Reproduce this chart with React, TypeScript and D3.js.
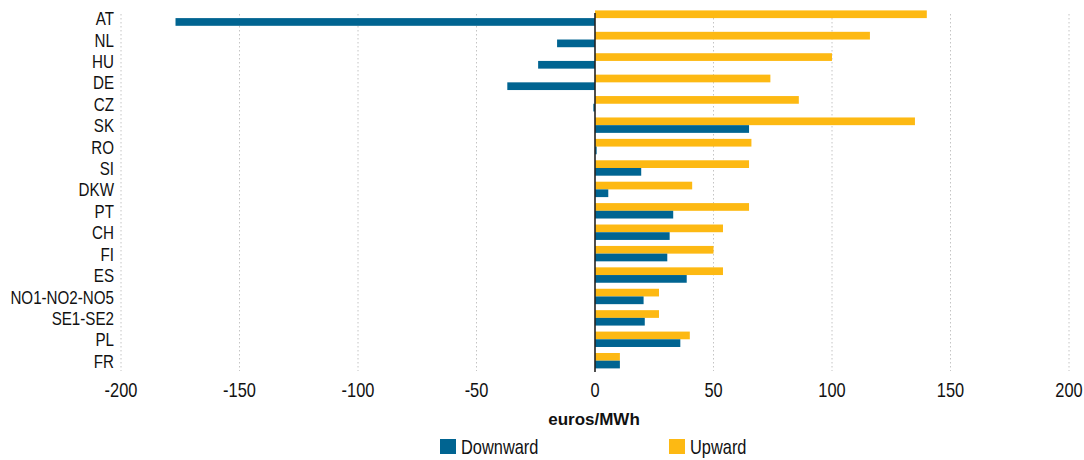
import React from "react";
import * as d3 from "d3";

const categories = ["AT","NL","HU","DE","CZ","SK","RO","SI","DKW","PT","CH","FI","ES","NO1-NO2-NO5","SE1-SE2","PL","FR"];
const upward = [140, 116, 100, 74, 86, 135, 66, 65, 41, 65, 54, 50, 54, 27, 27, 40, 10.5];
const downward = [-177, -16, -24, -37, -0.7, 65, 0.7, 19.5, 5.6, 33, 31.5, 30.5, 38.7, 20.5, 21, 36, 10.5];
const xTicks = [-200, -150, -100, -50, 0, 50, 100, 150, 200];
const seriesNames = ["Upward", "Downward"];

const BLUE = "#006491";
const YELLOW = "#FDB913";
const FONT = "'Liberation Sans', Arial, sans-serif";
const SQ = 0.82;

function NText(props: { x: number; y: number; size: number; anchor?: string; dy?: string; children: React.ReactNode; weight?: string }) {
  return (
    <text
      transform={`translate(${props.x},${props.y}) scale(${SQ},1)`}
      dy={props.dy}
      textAnchor={props.anchor || "start"}
      fontFamily={FONT}
      fontSize={props.size}
      fontWeight={props.weight}
      fill="#111"
    >
      {props.children}
    </text>
  );
}

export default function App() {
  const W = 1084, H = 460;
  const x = d3.scaleLinear().domain([-200, 200]).range([121, 1069]);
  const y = d3.scaleBand().domain(categories).range([8, 372]).padding(0);
  const inner = d3.scaleBand().domain(seriesNames).range([0, y.bandwidth()]).paddingInner(0).paddingOuter(0.39);
  const x0 = x(0);
  return (
    <svg width={W} height={H} style={{ position: "absolute", left: 0, top: 0 }}>
      <rect width={W} height={H} fill="#fff" />
      {xTicks.filter(t => t !== 0).map(t => (
        <line key={"g" + t} x1={x(t)} x2={x(t)} y1={14} y2={371} stroke="#c4c4c4" strokeWidth={1} strokeDasharray="1.5,2.5" />
      ))}
      {categories.map((c, i) => {
        const by = (y(c) as number) - 0.6;
        const vu = upward[i], vd = downward[i];
        return (
          <g key={c}>
            <rect x={Math.min(x(0), x(vu))} y={by + (inner("Upward") as number)} width={Math.abs(x(vu) - x0)} height={inner.bandwidth()} fill={YELLOW} />
            <rect x={Math.min(x(0), x(vd))} y={by + (inner("Downward") as number)} width={Math.abs(x(vd) - x0)} height={inner.bandwidth()} fill={BLUE} />
            <NText x={114} y={(y(c) as number) + y.bandwidth() / 2} dy="0.35em" anchor="end" size={18.5}>{c}</NText>
          </g>
        );
      })}
      <line x1={x0} x2={x0} y1={13} y2={372} stroke="#222" strokeWidth={1.6} />
      {xTicks.map(t => (
        <NText key={"t" + t} x={x(t)} y={397} anchor="middle" size={20}>{t}</NText>
      ))}
      <text x={594} y={425} textAnchor="middle" fontFamily={FONT} fontWeight="bold" fontSize={17} fill="#111">euros/MWh</text>
      <rect x={440} y={439} width={16} height={15} fill={BLUE} />
      <NText x={461} y={454} size={20}>Downward</NText>
      <rect x={669} y={439} width={16} height={15} fill={YELLOW} />
      <NText x={690} y={454} size={20}>Upward</NText>
    </svg>
  );
}
